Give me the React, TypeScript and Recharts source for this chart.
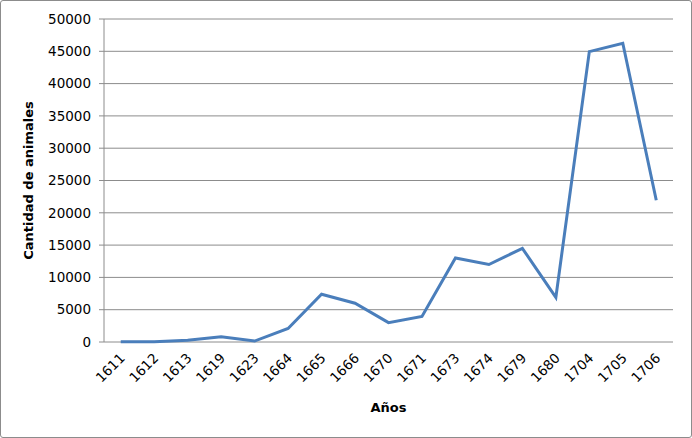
import { CartesianGrid, Label, Line, LineChart, XAxis, YAxis } from "recharts";

const years = ["1611", "1612", "1613", "1619", "1623", "1664", "1665", "1666", "1670", "1671", "1673", "1674", "1679", "1680", "1704", "1705", "1706"];
const animals = [50, 50, 260, 820, 150, 2100, 7400, 6000, 3000, 3950, 13000, 12000, 14500, 6900, 44950, 46250, 21950];
const yTicks = [0, 5000, 10000, 15000, 20000, 25000, 30000, 35000, 40000, 45000, 50000];
const boundaryTicks = years.map((_, i) => i).concat(years.length);

const data = years.map((year, i) => ({ year, animals: animals[i] }));

const font = "'DejaVu Sans', sans-serif";
const gray = "#8c8c8c";

function YearTick({ x, y, payload }: any) {
  return (
    <g transform={`translate(${x + 5},${y + 9})`}>
      <text textAnchor="end" transform="rotate(-45)" fontFamily={font} fontSize={13.5} fill="#000">
        {payload.value}
      </text>
    </g>
  );
}

export default function App() {
  return (
    <div
      style={{
        position: "absolute",
        left: 0,
        top: 0,
        width: 692,
        height: 438,
        boxSizing: "border-box",
        border: `1px solid ${gray}`,
        borderRadius: 3,
        background: "#fff",
      }}
    >
      <LineChart width={690} height={436} data={data} margin={{ top: 18, right: 18, left: 0, bottom: 0 }}>
        <CartesianGrid vertical={false} stroke={gray} />
        <XAxis
          xAxisId="bounds"
          type="number"
          domain={[0, years.length]}
          ticks={boundaryTicks}
          tick={false}
          height={0}
          stroke={gray}
          tickSize={5}
        />
        <XAxis
          xAxisId="years"
          dataKey="year"
          scale="band"
          height={95}
          axisLine={false}
          tickLine={false}
          tick={<YearTick />}
          interval={0}
        >
          <Label
            content={({ viewBox }: any) => (
              <text
                x={viewBox.x + viewBox.width / 2}
                y={viewBox.y + 70}
                textAnchor="middle"
                fontFamily={font}
                fontSize={13}
                fontWeight="bold"
                fill="#000"
              >
                Años
              </text>
            )}
          />
        </XAxis>
        <YAxis
          width={103}
          domain={[0, 50000]}
          ticks={yTicks}
          interval={0}
          stroke={gray}
          tickSize={5}
          tick={{ fill: "#000", fontFamily: font, fontSize: 13.5 }}
          tickMargin={8}
        >
          <Label
            content={({ viewBox }: any) => (
              <text
                x={32}
                y={viewBox.y + viewBox.height / 2}
                textAnchor="middle"
                transform={`rotate(-90, 32, ${viewBox.y + viewBox.height / 2})`}
                fontFamily={font}
                fontSize={13}
                fontWeight="bold"
                fill="#000"
              >
                Cantidad de animales
              </text>
            )}
          />
        </YAxis>
        <Line
          xAxisId="years"
          type="linear"
          dataKey="animals"
          stroke="#4a7ebb"
          strokeWidth={3}
          dot={false}
          isAnimationActive={false}
        />
      </LineChart>
    </div>
  );
}
